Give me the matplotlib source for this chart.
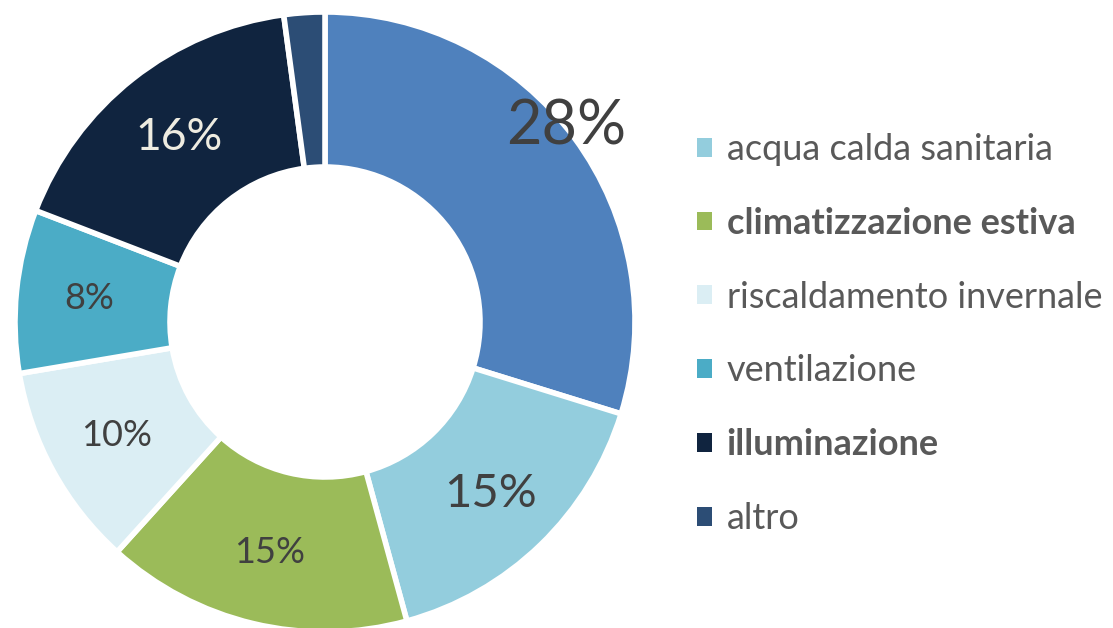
import matplotlib.pyplot as plt
from matplotlib.patches import Patch
import numpy as np

plt.rcParams['font.family'] = ['Lato', 'DejaVu Sans']

categories = ['consumi elettrici', 'acqua calda sanitaria', 'climatizzazione estiva',
              'riscaldamento invernale', 'ventilazione', 'illuminazione', 'altro']
values = [28, 15, 15, 10, 8, 16, 2]
labels = ['28%', '15%', '15%', '10%', '8%', '16%', '']
colors = ['#4F81BD', '#93CDDD', '#9BBB59', '#DBEEF4', '#4BACC6', '#10243F', '#2C4D75']
label_colors = ['#404040', '#404040', '#404040', '#404040', '#404040', '#EEECE1', '#404040']
label_sizes = [44, 34, 26, 26, 26, 32, 26]
label_radius = [1.0, 0.77, 0.765, 0.765, 0.765, 0.76, 0.76]
label_shift = [2.5, 0, 0, 0, 0, 0, 0]  # degrees, moves label towards start of slice
bold_legend = ['climatizzazione estiva', 'illuminazione']

fig = plt.figure(figsize=(11.13, 6.28), dpi=100)
ax = fig.add_axes([15 / 1113, -4 / 628, 620 / 1113, 620 / 628])

wedges, _ = ax.pie(values, colors=colors, startangle=90, counterclock=False, radius=1.0,
                   wedgeprops=dict(width=0.5, edgecolor='white', linewidth=4))

for w, lab, c, s, r, d in zip(wedges, labels, label_colors, label_sizes, label_radius, label_shift):
    if not lab:
        continue
    ang = np.deg2rad((w.theta1 + w.theta2) / 2 + d)
    ax.text(r * np.cos(ang), r * np.sin(ang), lab, ha='center', va='center',
            fontsize=s, color=c)

ax.set_xlim(-1, 1)
ax.set_ylim(-1, 1)
ax.set_aspect('equal')
ax.axis('off')

handles = [Patch(facecolor=colors[i], edgecolor='none') for i in range(1, len(categories))]
leg = fig.legend(handles, categories[1:], loc='center left', bbox_to_anchor=(697 / 1113, 0.468),
                 frameon=False, fontsize=26, handlelength=0.42, handleheight=0.42,
                 handletextpad=0.4, labelspacing=1.13, labelcolor='#595959',
                 borderpad=0, borderaxespad=0)
for t in leg.get_texts():
    if t.get_text() in bold_legend:
        t.set_fontweight('bold')

plt.savefig('out.png', dpi=100)
